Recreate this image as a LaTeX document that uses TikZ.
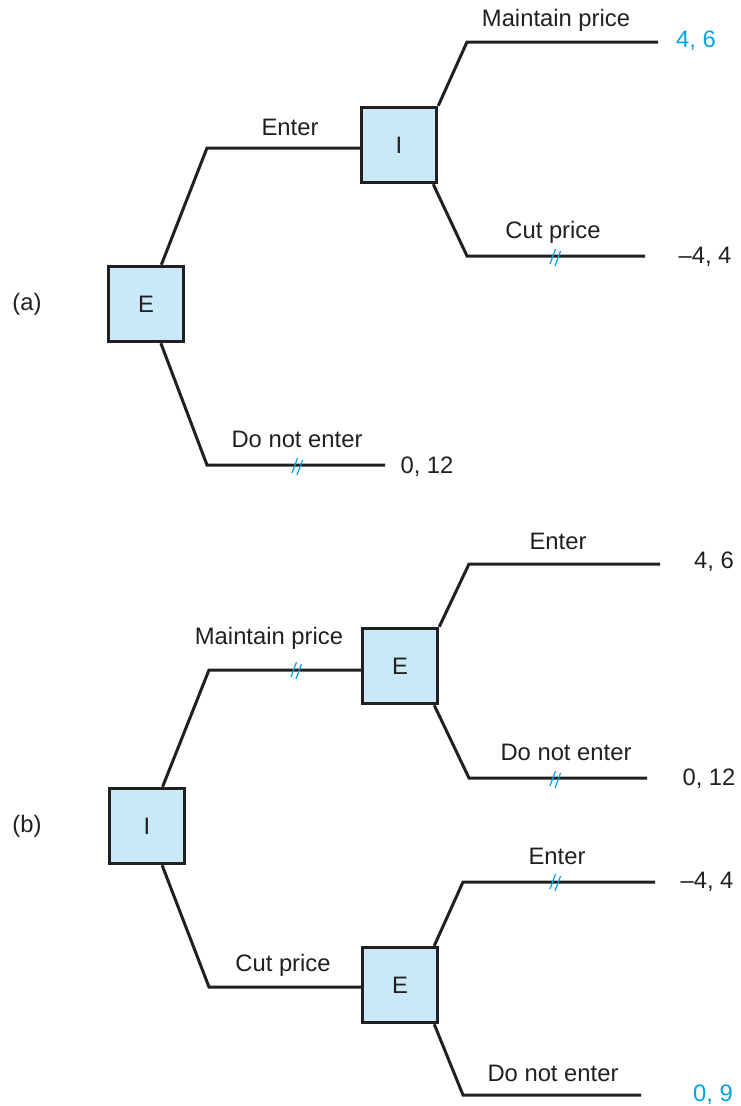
\documentclass[tikz,border=0pt]{standalone}
\usepackage{fontspec}
\setmainfont{Liberation Sans}
\definecolor{ink}{RGB}{35,31,32}
\definecolor{boxfill}{RGB}{200,233,248}
\definecolor{cyanink}{RGB}{0,163,228}
\begin{document}
\begin{tikzpicture}[x=1pt,y=-1pt,
  font=\fontsize{23.8}{28}\selectfont,
  player/.style={draw=ink,line width=3.5pt,fill=boxfill,minimum size=75pt,inner sep=0pt,text=ink},
  branch/.style={draw=ink,line width=3pt},
  lbl/.style={text=ink,inner sep=0pt,anchor=center},
  pay/.style={text=ink,inner sep=0pt,anchor=center},
  hl/.style={text=cyanink},
  brk/.pic={\draw[cyanink,line width=1.2pt] (-6,7) -- (-0.5,-8) (-1,9) -- (4.5,-6);}
]
\useasboundingbox (0,0) rectangle (740,1106);

% ---------- panel (a) ----------
\node[lbl] (la) at (27,304) {(a)};
\node[player] (Ea) at (146,304) {E};
\node[player] (Ia) at (399,145) {I};
\coordinate (a1) at (207,148);
\coordinate (a2) at (207,465);
\coordinate (a2e) at (385,465);
\coordinate (a3) at (467,42);
\coordinate (a3e) at (658,42);
\coordinate (a4) at (467,256);
\coordinate (a4e) at (645,256);

\draw[branch] (Ea) -- (a1) -- (a1 -| Ia.west);
\draw[branch] (Ea) -- (a2) -- (a2e);
\draw[branch] (Ia.north east) -- (a3) -- (a3e);
\draw[branch] ([xshift=-5pt]Ia.south east) -- (a4) -- (a4e);

\node[lbl] (ta1) at (290,127) {Enter};
\node[lbl] (ta2) at (297,439) {Do not enter};
\node[lbl] (ta3) at (556,20) {Maintain price};
\node[lbl] (ta4) at (553,232) {Cut price};

\node[pay,hl] (pa3) at (696,41) {4, 6};
\node[pay] (pa4) at (705,257) {\textendash4, 4};
\node[pay] (pa2) at (427,467) {0, 12};

\pic at (298,466) {brk};
\pic at (556,257) {brk};

% ---------- panel (b) ----------
\node[lbl] (lb) at (27,826) {(b)};
\node[player] (Ib) at (147,826) {I};
\node[player] (Eb1) at (400,666) {E};
\node[player] (Eb2) at (400,985) {E};
\coordinate (b1) at (209,670);
\coordinate (b2) at (209,987);
\coordinate (b3) at (469,564);
\coordinate (b3e) at (660,564);
\coordinate (b4) at (469,778);
\coordinate (b4e) at (647,778);
\coordinate (b5) at (463,882);
\coordinate (b5e) at (655,882);
\coordinate (b6) at (463,1095);
\coordinate (b6e) at (641,1095);

\draw[branch] (Ib) -- (b1) -- (b1 -| Eb1.west);
\draw[branch] (Ib) -- (b2) -- (b2 -| Eb2.west);
\draw[branch] (Eb1.north east) -- (b3) -- (b3e);
\draw[branch] ([xshift=-5pt]Eb1.south east) -- (b4) -- (b4e);
\draw[branch] ([xshift=-5pt]Eb2.north east) -- (b5) -- (b5e);
\draw[branch] ([xshift=-5pt]Eb2.south east) -- (b6) -- (b6e);

\node[lbl] (tb1) at (269,638) {Maintain price};
\node[lbl] (tb2) at (283,965) {Cut price};
\node[lbl] (tb3) at (558,541) {Enter};
\node[lbl] (tb4) at (566,752) {Do not enter};
\node[lbl] (tb5) at (557,856) {Enter};
\node[lbl] (tb6) at (553,1073) {Do not enter};

\node[pay] (pb3) at (714,562) {4, 6};
\node[pay] (pb4) at (709,779) {0, 12};
\node[pay] (pb5) at (707,882) {\textendash4, 4};
\node[pay,hl] (pb6) at (713,1095) {0, 9};

\pic at (297,670) {brk};
\pic at (556,779) {brk};
\pic at (556,882) {brk};
\end{tikzpicture}
\end{document}
